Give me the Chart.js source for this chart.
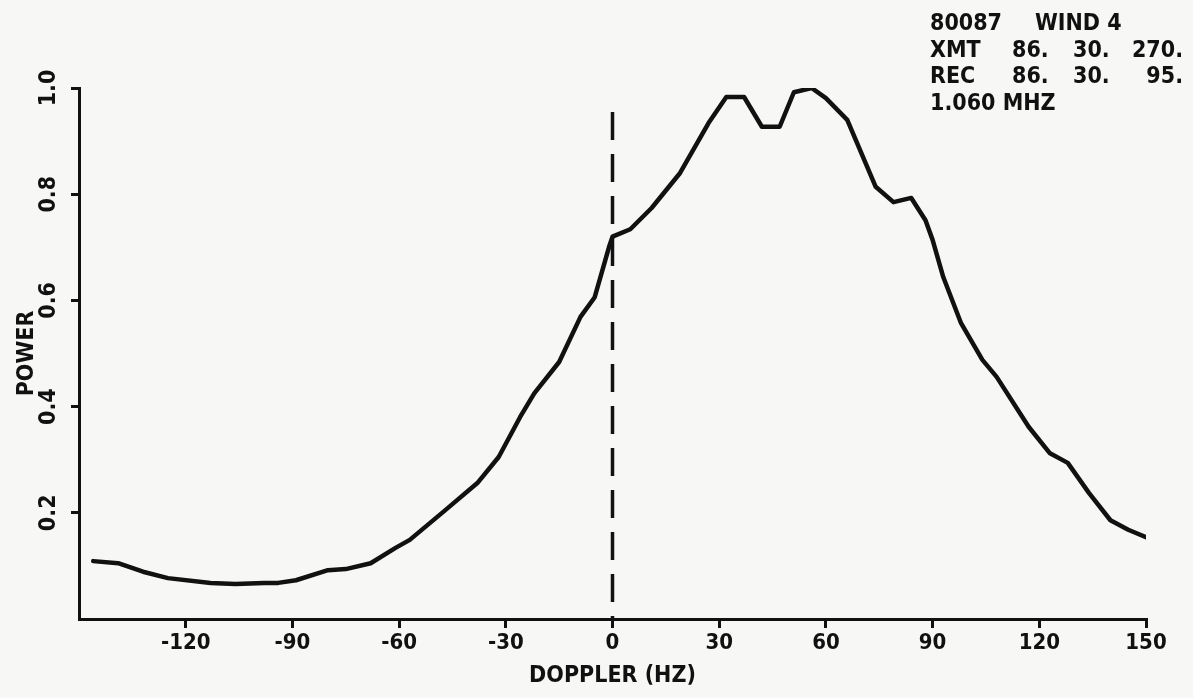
<!DOCTYPE html>
<html>
<head>
<meta charset="utf-8">
<script src="https://cdn.jsdelivr.net/npm/chart.js@4.4.1/dist/chart.umd.min.js"></script>
<style>
  html, body { margin: 0; padding: 0; background: #f7f7f5; }
  #wrap { width: 1193px; height: 698px; }
</style>
</head>
<body>
<div id="wrap"><canvas id="dopplerChart" width="1193" height="698"></canvas></div>
<script>
// spectrum
var dopplerHz = [-146, -139, -132, -125, -113, -106, -98, -94, -89, -80, -75, -68, -61, -57,
  -47, -38, -32, -26, -22, -15, -9, -5, -1, 0, 5, 11, 19, 27, 32, 37, 42, 47, 51, 56, 60,
  66, 74, 79, 84, 88, 90, 93, 98, 104, 108, 117, 123, 128, 134, 140, 145, 150];
var power = [0.109, 0.105, 0.089, 0.077, 0.068, 0.066, 0.068, 0.068, 0.073, 0.092, 0.094, 0.105, 0.134, 0.149,
  0.205, 0.256, 0.305, 0.38, 0.425, 0.484, 0.569, 0.606, 0.70, 0.72, 0.734, 0.774, 0.84, 0.934, 0.983, 0.983, 0.927, 0.927, 0.992, 1.0, 0.981,
  0.94, 0.814, 0.785, 0.793, 0.751, 0.714, 0.644, 0.557, 0.488, 0.456, 0.362, 0.312, 0.294, 0.237, 0.186, 0.168, 0.154];

// dashed marker at zero doppler, drawn top down
var zeroLineHz = [0, 0];
var zeroLinePower = [0.955, 0];

var xTicks = [-120, -90, -60, -30, 0, 30, 60, 90, 120, 150];
var yTicks = [0.2, 0.4, 0.6, 0.8, 1.0];

var infoRows = [
  ['80087', 'WIND 4', '', ''],
  ['XMT', '86.', '30.', '270.'],
  ['REC', '86.', '30.', '95.'],
  ['1.060 MHZ', '', '', '']
];

var ink = '#111111';
var plotFont = '"DejaVu Sans Condensed", "DejaVu Sans", sans-serif';

function toPoints(xs, ys) {
  return xs.map(function (x, i) { return { x: x, y: ys[i] }; });
}

var paperPlugin = {
  id: 'paper',
  beforeDraw: function (chart) {
    var c = chart.ctx;
    c.save();
    c.fillStyle = '#f7f7f5';
    c.fillRect(0, 0, chart.width, chart.height);
    c.restore();
  },
  afterDraw: function (chart) {
    var c = chart.ctx;
    c.save();
    c.fillStyle = ink;
    c.font = 'bold 23px ' + plotFont;
    c.textBaseline = 'alphabetic';
    infoRows.forEach(function (row, i) {
      var y = 30 + i * 26.5;
      c.textAlign = 'left';
      c.fillText(row[0], 930, y);
      if (i === 0) {
        c.fillText(row[1], 1035, y);
      } else {
        c.fillText(row[1], 1012, y);
        c.fillText(row[2], 1073, y);
        c.textAlign = 'right';
        c.fillText(row[3], 1183, y);
      }
    });
    c.restore();
  }
};

var ctx = document.getElementById('dopplerChart').getContext('2d');
var chart = new Chart(ctx, {
  type: 'scatter',
  data: {
    datasets: [{
      label: 'Power',
      data: toPoints(dopplerHz, power),
      showLine: true,
      borderColor: ink,
      borderWidth: 4.5,
      pointRadius: 0,
      tension: 0,
      borderJoinStyle: 'round',
      borderCapStyle: 'round'
    }, {
      label: 'Zero',
      data: toPoints(zeroLineHz, zeroLinePower),
      showLine: true,
      borderColor: ink,
      borderWidth: 3.5,
      borderDash: [28, 14],
      pointRadius: 0
    }]
  },
  options: {
    responsive: false,
    animation: false,
    events: [],
    layout: { padding: { left: 0, right: 47, top: 88, bottom: 0 } },
    plugins: { legend: { display: false }, tooltip: { enabled: false } },
    scales: {
      x: {
        type: 'linear',
        min: -150,
        max: 150,
        afterFit: function (s) { s.height = 79; },
        afterBuildTicks: function (s) { s.ticks = xTicks.map(function (v) { return { value: v }; }); },
        border: { display: true, color: ink, width: 3 },
        grid: { drawOnChartArea: false, drawTicks: true, tickLength: 9, color: ink, lineWidth: 3 },
        ticks: {
          color: ink,
          padding: 2,
          maxRotation: 0,
          font: { family: plotFont, size: 22, weight: 'bold' }
        },
        title: {
          display: true,
          text: 'DOPPLER (HZ)',
          color: ink,
          padding: { top: 0, bottom: 8 },
          font: { family: plotFont, size: 23, weight: 'bold' }
        }
      },
      y: {
        type: 'linear',
        min: 0,
        max: 1.0,
        afterFit: function (s) { s.width = 79; },
        afterBuildTicks: function (s) { s.ticks = yTicks.map(function (v) { return { value: v }; }); },
        border: { display: true, color: ink, width: 3 },
        grid: { drawOnChartArea: false, drawTicks: true, tickLength: 8, color: ink, lineWidth: 3 },
        ticks: {
          color: ink,
          padding: 4,
          minRotation: 90,
          maxRotation: 90,
          crossAlign: 'center',
          callback: function (v) { return v.toFixed(1); },
          font: { family: plotFont, size: 23, weight: 'bold' }
        },
        title: {
          display: true,
          text: 'POWER',
          color: ink,
          padding: { top: 13, bottom: 0 },
          font: { family: plotFont, size: 23, weight: 'bold' }
        }
      }
    }
  },
  plugins: [paperPlugin]
});
</script>
</body>
</html>
